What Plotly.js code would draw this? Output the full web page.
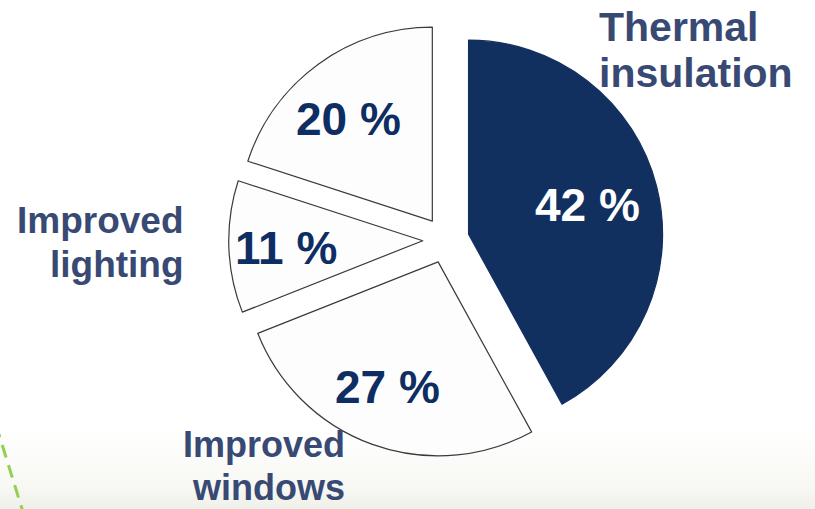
<!DOCTYPE html>
<html>
<head>
<meta charset="utf-8">
<script src="https://cdn.plot.ly/plotly-3.0.1.min.js"></script>
<style>
  html, body { margin: 0; padding: 0; }
  body {
    width: 815px; height: 509px; overflow: hidden;
    background: linear-gradient(to bottom, #ffffff 0%, #ffffff 84%, #fbfbf9 90%, #f7f7f3 96%, #f0f0ea 100%);
  }
  #chart { width: 815px; height: 509px; }
</style>
</head>
<body>
<div id="chart"></div>
<script>
// ---- data ----
const categories = ['Thermal insulation', 'Improved windows', 'Improved lighting', ''];
const values = [42, 27, 11, 20];
const sliceColors = ['#11305f', '#fdfdfd', '#fdfdfd', '#fdfdfd'];
const outlineColors = ['#11305f', '#3a3a3a', '#3a3a3a', '#3a3a3a'];
const percentTextColors = ['#ffffff', '#0e2d62', '#0e2d62', '#0e2d62'];

// ---- layout geometry ----
const W = 815, H = 509;
const pull = 0.12;
const domX = [0.2806, 0.8139];
const domY = [0.1016, 0.9554];
const cxPx = W * (domX[0] + domX[1]) / 2;
const cyPx = H * (1 - (domY[0] + domY[1]) / 2);
const rPx = Math.min(W * (domX[1] - domX[0]), H * (domY[1] - domY[0])) / (2 + 2 * pull);
const textFrac = 0.67, textDx = -7, textDy = 3;

const font = 'Liberation Sans, Arial, Helvetica, sans-serif';
const labelColor = '#384a73';

const annotations = [];
const total = values.reduce((a, b) => a + b, 0);
let cum = 0;
values.forEach((v, i) => {
  const mid = (cum + v / 2) / total * 2 * Math.PI;
  cum += v;
  const d = (pull + textFrac) * rPx;
  const px = cxPx + d * Math.sin(mid) + textDx;
  const py = cyPx - d * Math.cos(mid) + textDy;
  annotations.push({
    xref: 'paper', yref: 'paper', x: px / W, y: 1 - py / H,
    xanchor: 'center', yanchor: 'middle', showarrow: false,
    text: v + ' %',
    font: { family: font, size: 46, weight: 700, color: percentTextColors[i] }
  });
});

// category name labels (split into lines), placed around the pie
const labelPlacement = [
  { x: 597, ys: [27, 73], anchor: 'left', size: 41 },
  { x: 347, ys: [444, 487], anchor: 'right', size: 36 },
  { x: 186, ys: [220, 264], anchor: 'right', size: 37 },
  null
];
categories.forEach((name, i) => {
  const p = labelPlacement[i];
  if (!p || !name) return;
  name.split(' ').forEach((line, k) => {
    annotations.push({
      xref: 'paper', yref: 'paper', x: p.x / W, y: 1 - p.ys[k] / H,
      xanchor: p.anchor, yanchor: 'middle', showarrow: false,
      text: line,
      font: { family: font, size: p.size, weight: 700, color: labelColor }
    });
  });
});

const trace = {
  type: 'pie',
  labels: categories.map((c, i) => c || 'Other'),
  values: values,
  sort: false,
  direction: 'clockwise',
  rotation: 0,
  pull: pull,
  domain: { x: domX, y: domY },
  marker: { colors: sliceColors, line: { color: outlineColors, width: 1.2 } },
  textinfo: 'none',
  hoverinfo: 'none',
  showlegend: false
};

const layout = {
  width: W, height: H,
  margin: { l: 0, r: 0, t: 0, b: 0 },
  paper_bgcolor: 'rgba(0,0,0,0)',
  plot_bgcolor: 'rgba(0,0,0,0)',
  showlegend: false,
  annotations: annotations,
  shapes: [{
    type: 'line', xref: 'paper', yref: 'paper',
    x0: -4 / W, y0: 1 - 425 / H, x1: 23 / W, y1: 1 - 512 / H,
    line: { color: '#92d050', width: 3, dash: '13px,8px' }
  }]
};

Plotly.newPlot('chart', [trace], layout, { displayModeBar: false, staticPlot: true });
</script>
</body>
</html>
